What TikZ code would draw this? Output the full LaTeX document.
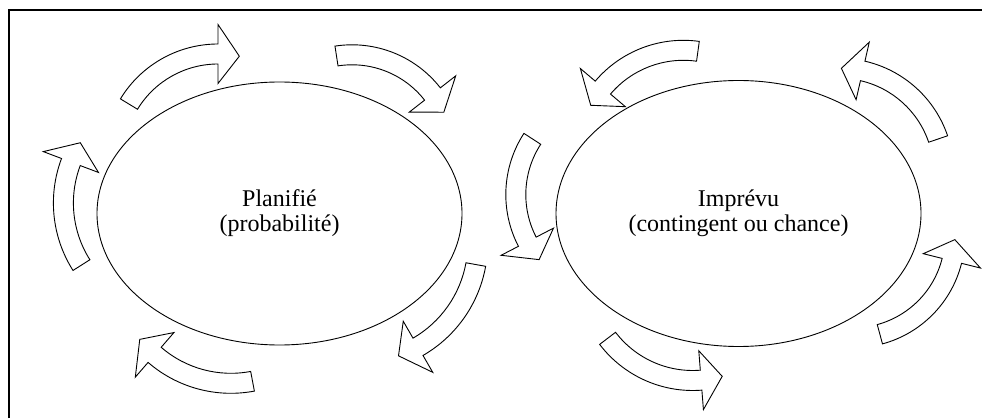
\documentclass[tikz,border=0pt]{standalone}
\usepackage{fontspec}
\setmainfont{Liberation Serif}
\usepackage{tikz}
\usetikzlibrary{shapes,arrows}
\usetikzlibrary{positioning}
\tikzstyle{bubble} = [draw, ellipse, line width=0.9pt, minimum width=365pt,
    minimum height=263pt, inner sep=0pt, align=center,
    font=\fontsize{24}{25}\selectfont]
\tikzstyle{turn} = [draw, line width=0.9pt, line join=miter]
\newcommand{\turnarrow}[5]{%
  \pgfmathsetmacro{\turnsign}{(#5>#4) ? 1 : -1}%
  \pgfmathsetmacro{\tipangle}{#5+\turnsign*21.5/(#3)*180/pi}%
  \draw [turn, shift={(#1,#2)}] (#4:#3+10) arc [start angle=#4, end angle=#5, radius=#3+10]
    -- (#5:#3+29.5) -- (\tipangle:#3) -- (#5:#3-29.5) -- (#5:#3-10)
    arc [start angle=#5, end angle=#4, radius=#3-10] -- cycle;
}

\begin{document}
\begin{tikzpicture}[x=1pt, y=1pt]
  \useasboundingbox (0,0) rectangle (982,418);
  \draw [line width=2pt] (9,0) -- (9,407.5) -- (982,407.5);
  \node [bubble] (planned) at (279.5,204.5) {Planifié\\(probabilité)};
  \node [bubble, right of=planned, node distance=459pt, minimum height=266pt]
  (unplanned) {Imprévu\\(contingent ou chance)};
  \turnarrow{218}{259.8}{104.2}{148.7}{90}
  \turnarrow{352.1}{261.2}{102}{98.8}{38}
  \turnarrow{179.3}{215}{115.9}{212.4}{159.3}
  \turnarrow{358.3}{174.6}{119.4}{-10.2}{-60}
  \turnarrow{230.9}{151.2}{116.5}{-79.3}{-130.9}
  \turnarrow{683.4}{262.1}{105.6}{82.1}{139.7}
  \turnarrow{839.4}{245.4}{104.3}{18.8}{77.1}
  \turnarrow{618.2}{223.4}{102.4}{147}{207.4}
  \turnarrow{853.2}{181.9}{101.7}{-74.8}{-14.1}
  \turnarrow{692.7}{144.5}{107}{217.3}{274.5}
\end{tikzpicture}
\end{document}
